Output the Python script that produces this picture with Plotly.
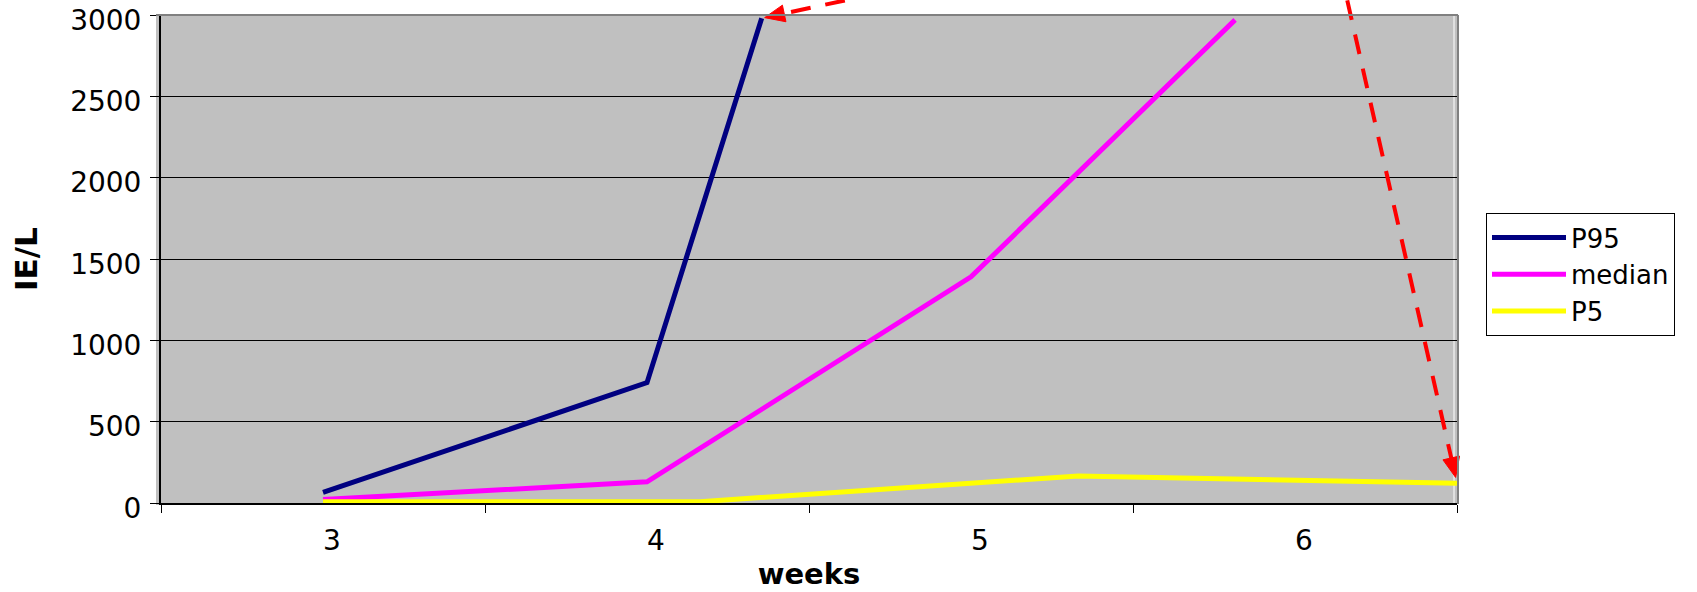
import plotly.graph_objects as go

# ---------------- data ----------------
weeks_p95 = [3, 4, 4.354]
p95 = [65, 740, 2980]

weeks_median = [3, 4, 5, 5.815]
median = [22, 130, 1390, 2970]

weeks_p5 = [3, 4, 4.164, 5.331, 6.5]
p5 = [8, 8, 8, 166, 121]

week_ticks = [3, 4, 5, 6]
week_labels = ["3", "4", "5", "6"]
y_ticks = [0, 500, 1000, 1500, 2000, 2500, 3000]

series_names = ["P95", "median", "P5"]
series_colors = ["#000080", "#FF00FF", "#FFFF00"]

# ---------------- layout geometry ----------------
X_RANGE = [2.5, 6.5]
Y_RANGE = [0, 3000]
FIG_W, FIG_H = 1697, 592
M_L, M_R, M_T, M_B = 161, 240, 15, 89
PW = FIG_W - M_L - M_R
PH = FIG_H - M_T - M_B

FONT = "DejaVu Sans"


def data_to_px(x, y):
    px = M_L + (x - X_RANGE[0]) / (X_RANGE[1] - X_RANGE[0]) * PW
    py = M_T + (Y_RANGE[1] - y) / (Y_RANGE[1] - Y_RANGE[0]) * PH
    return px, py


def px_to_paper(px, py):
    return (px - M_L) / PW, (M_T + PH - py) / PH


fig = go.Figure()
for xs, ys, name, color in [
    (weeks_p95, p95, series_names[0], series_colors[0]),
    (weeks_median, median, series_names[1], series_colors[1]),
    (weeks_p5, p5, series_names[2], series_colors[2]),
]:
    fig.add_trace(go.Scatter(x=xs, y=ys, mode="lines", name=name,
                             line=dict(color=color, width=5)))

# ---------------- red dashed arrows (annotation) ----------------
ARROW_ORIGIN_PX = (1324, -102)  # common origin above the chart
shapes = []


def add_arrow(end_x, end_y, back=3, head_len=20, head_w=17):
    ex, ey = data_to_px(end_x, end_y)
    ox, oy = ARROW_ORIGIN_PX
    dx, dy = ex - ox, ey - oy
    n = (dx * dx + dy * dy) ** 0.5
    ux, uy = dx / n, dy / n
    tx, ty = ex - ux * back, ey - uy * back
    bx, by = tx - ux * head_len, ty - uy * head_len
    px_, py_ = -uy, ux
    w1 = (bx + px_ * head_w / 2, by + py_ * head_w / 2)
    w2 = (bx - px_ * head_w / 2, by - py_ * head_w / 2)
    a0 = px_to_paper(ox, oy)
    a1 = px_to_paper(bx + ux * 2, by + uy * 2)
    shapes.append(dict(type="line", xref="paper", yref="paper",
                       x0=a0[0], y0=a0[1], x1=a1[0], y1=a1[1],
                       line=dict(color="#FF0000", width=4, dash="20px,15px"),
                       layer="above"))
    pts = [px_to_paper(tx, ty), px_to_paper(*w1), px_to_paper(*w2)]
    path = "M {},{} L {},{} L {},{} Z".format(pts[0][0], pts[0][1], pts[1][0], pts[1][1], pts[2][0], pts[2][1])
    shapes.append(dict(type="path", xref="paper", yref="paper", path=path,
                       fillcolor="#FF0000", line=dict(color="#FF0000", width=1),
                       layer="above"))


add_arrow(weeks_p95[-1], p95[-1])
add_arrow(weeks_p5[-1], p5[-1], back=6)

# plot-area frame details
shapes.insert(0, dict(type="rect", xref="paper", yref="paper",
                      x0=-5 / PW, x1=1, y0=-2 / PH, y1=1,
                      fillcolor="#C0C0C0", line=dict(width=0), layer="below"))
shapes.append(dict(type="line", xref="paper", yref="paper",
                   x0=-5 / PW, x1=1 + 1 / PW, y0=1, y1=1,
                   line=dict(color="#808080", width=2), layer="above"))
shapes.append(dict(type="line", xref="paper", yref="paper",
                   x0=1 - 3 / PW, x1=1 - 3 / PW, y0=-2 / PH, y1=1,
                   line=dict(color="#FFFFFF", width=1), layer="below"))
shapes.append(dict(type="line", xref="paper", yref="paper",
                   x0=1 + 1 / PW, x1=1 + 1 / PW, y0=-1 / PH, y1=1,
                   line=dict(color="#808080", width=2), layer="above"))

minor_ticks = [w - 0.5 for w in week_ticks] + [week_ticks[-1] + 0.5]

fig.update_layout(
    width=FIG_W, height=FIG_H,
    margin=dict(l=M_L, r=M_R, t=M_T, b=M_B, pad=0, autoexpand=False),
    paper_bgcolor="white",
    plot_bgcolor="#C0C0C0",
    font=dict(family=FONT, color="black"),
    shapes=shapes,
    showlegend=True,
    legend=dict(
        x=(1486 - M_L) / PW, y=(M_T + PH - 213) / PH,
        xanchor="left", yanchor="top",
        bgcolor="white", bordercolor="black", borderwidth=1,
        font=dict(family=FONT, size=26, color="black"),
        itemwidth=74, tracegroupgap=0,
    ),
    xaxis=dict(
        range=X_RANGE, tickmode="array", tickvals=week_ticks, ticktext=week_labels,
        ticks="", showgrid=False, zeroline=False,
        showline=True, linecolor="black", linewidth=2,
        tickfont=dict(family=FONT, size=28, color="black"),
        ticklabelshift=9, ticklabelstandoff=11,
        minor=dict(tickmode="array", tickvals=minor_ticks, ticks="outside",
                   ticklen=8, tickcolor="black", tickwidth=1, showgrid=False),
        title=dict(text="<b>weeks</b>", font=dict(family=FONT, size=29, color="black"),
                   standoff=8),
        fixedrange=True,
    ),
    yaxis=dict(
        range=Y_RANGE, tickmode="array", tickvals=y_ticks,
        ticks="outside", ticklen=9, tickcolor="black", tickwidth=1,
        showgrid=True, gridcolor="black", gridwidth=1, zeroline=False,
        showline=True, linecolor="black", linewidth=2,
        tickfont=dict(family=FONT, size=28, color="black"),
        ticklabelshift=5, ticklabelstandoff=3, ticklabeloverflow="allow",
        title=dict(text="<b>IE/L</b>", font=dict(family=FONT, size=31, color="black"),
                   standoff=23),
        fixedrange=True,
    ),
)

fig.write_html("out.html", config={"displayModeBar": False},
               post_script="document.body.style.margin='0';document.body.style.overflow='hidden';")
